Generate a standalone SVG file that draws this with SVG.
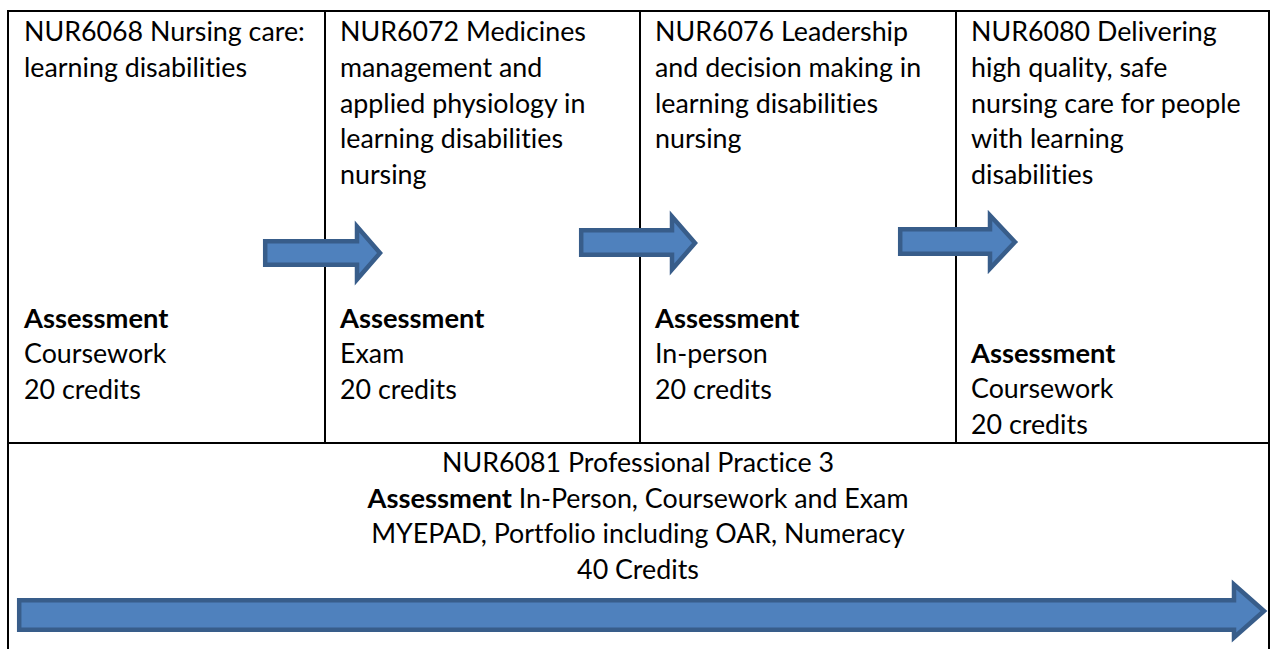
<svg xmlns="http://www.w3.org/2000/svg" width="1275" height="649" viewBox="0 0 1275 649">
<style>
.t{font-family:Lato,"Liberation Sans",sans-serif;font-size:26.8px;fill:#000;font-variant-ligatures:none;font-feature-settings:"liga" 0,"clig" 0}
.b{font-weight:bold;font-size:27.3px}
.c{text-anchor:middle}
.grid{stroke:#000;stroke-width:2;fill:none}
.arr{fill:#4F81BD;stroke:#385D8A;stroke-width:4.5;stroke-linejoin:miter}
</style>
<rect width="1275" height="649" fill="#fff"/>
<g id="grid" class="grid">
<path d="M8 660 V11 H1269 V660"/>
<path d="M8 443 H1269"/>
<path d="M325 11 V443 M640 11 V443 M956 11 V443"/>
</g>
<g id="node-nur6068">
<text class="t" x="24" y="41">NUR6068 Nursing care:</text>
<text class="t" x="24" y="77">learning disabilities</text>
<text class="t b" x="24" y="327.5">Assessment</text>
<text class="t" x="24" y="363">Coursework</text>
<text class="t" x="24" y="398.5">20 credits</text>
</g>
<g id="node-nur6072">
<text class="t" x="340" y="41">NUR6072 Medicines</text>
<text class="t" x="340" y="77">management and</text>
<text class="t" x="340" y="113">applied physiology in</text>
<text class="t" x="340" y="148">learning disabilities</text>
<text class="t" x="340" y="184">nursing</text>
<text class="t b" x="340" y="327.5">Assessment</text>
<text class="t" x="340" y="363">Exam</text>
<text class="t" x="340" y="398.5">20 credits</text>
</g>
<g id="node-nur6076">
<text class="t" x="655" y="41">NUR6076 Leadership</text>
<text class="t" x="655" y="77">and decision making in</text>
<text class="t" x="655" y="113">learning disabilities</text>
<text class="t" x="655" y="148">nursing</text>
<text class="t b" x="655" y="327.5">Assessment</text>
<text class="t" x="655" y="363">In-person</text>
<text class="t" x="655" y="398.5">20 credits</text>
</g>
<g id="node-nur6080">
<text class="t" x="971" y="41">NUR6080 Delivering</text>
<text class="t" x="971" y="77">high quality, safe</text>
<text class="t" x="971" y="113">nursing care for people</text>
<text class="t" x="971" y="148">with learning</text>
<text class="t" x="971" y="184">disabilities</text>
<text class="t b" x="971" y="362.5">Assessment</text>
<text class="t" x="971" y="398">Coursework</text>
<text class="t" x="971" y="433.5">20 credits</text>
</g>
<g id="node-nur6081">
<text class="t c" x="638" y="472">NUR6081 Professional Practice 3</text>
<text class="t c" x="638" y="507.5"><tspan class="b">Assessment</tspan> In-Person, Coursework and Exam</text>
<text class="t c" x="638" y="543">MYEPAD, Portfolio including OAR, Numeracy</text>
<text class="t c" x="638" y="578.5">40 Credits</text>
</g>
<g id="connectors">
<path class="arr" d="M265.2 241.2 H357 V226.5 L380 253 L357 279.5 V264.8 H265.2 Z"/>
<path class="arr" d="M581.2 230.2 H672 V216.5 L695 243 L672 269.5 V254.8 H581.2 Z"/>
<path class="arr" d="M900.2 229.2 H990 V215.5 L1015 242 L990 268.5 V253.8 H900.2 Z"/>
<path class="arr" d="M19.2 600.2 H1234 V584.5 L1264 611 L1234 637.5 V629.8 H19.2 Z"/>
</g>
</svg>
